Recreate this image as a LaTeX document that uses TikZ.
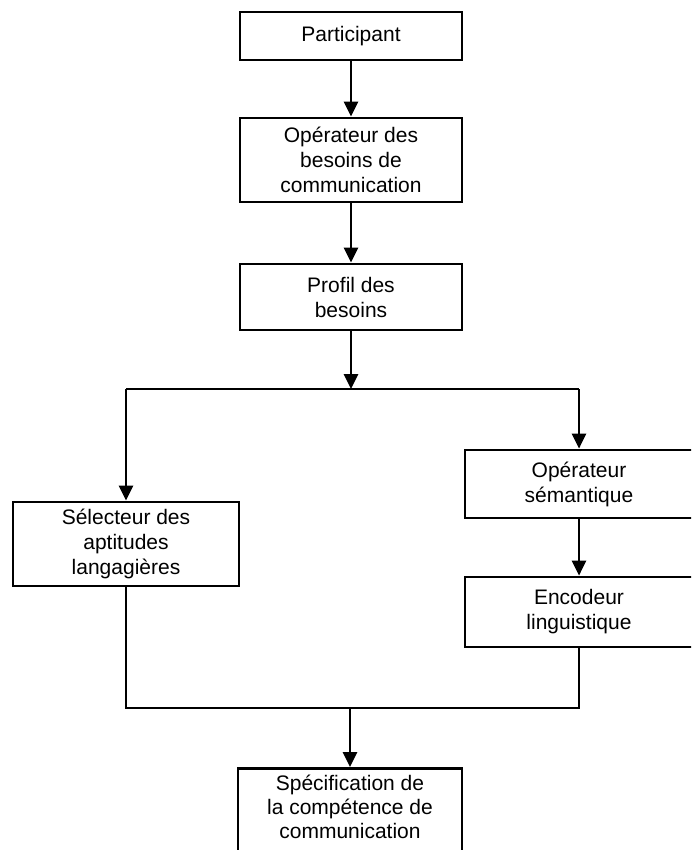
\documentclass[tikz,border=0pt]{standalone}
\usepackage{fontspec}
\setmainfont{Liberation Sans}
\usetikzlibrary{arrows.meta}

\tikzset{
  boxnode/.style={draw, line width=2.7pt, align=center, inner sep=0pt,
    font=\fontsize{21}{25}\selectfont},
  txtnode/.style={align=center, inner sep=0pt, font=\fontsize{21}{24}\selectfont},
  ln/.style={line width=2.7pt},
  arr/.style={line width=2.7pt, -{Triangle[length=15pt,width=14pt]}}
}

\begin{document}
\begin{tikzpicture}[x=1pt, y=-1pt]
  \useasboundingbox (0,0) rectangle (691,850);
  \clip (0,0) rectangle (691,850);

  % main column
  \node[boxnode, minimum width=222, minimum height=48] (part) at (351,36) {Participant};
  \node[boxnode, minimum width=222, minimum height=84] (opb) at (351,160)
    {Opérateur des\\besoins de\\communication};
  \node[boxnode, minimum width=222, minimum height=66] (prof) at (351,297)
    {Profil des\\besoins};

  % left branch
  \node[boxnode, minimum width=226, minimum height=84] (sel) at (126,544)
    {Sélecteur des\\aptitudes\\langagières};

  % right branch
  \node[boxnode, minimum width=228, minimum height=68] (sem) at (579,484)
    {Opérateur\\sémantique};
  \node[boxnode, minimum width=228, minimum height=70] (enc) at (579,612)
    {Encodeur\\linguistique};

  % final box (runs past the lower edge)
  \node[draw, line width=2.7pt, minimum width=224, minimum height=110, anchor=north,
    inner sep=0pt] (spec) at (350,767) {};
  \node[txtnode] (spectxt) at (350,807)
    {Spécification de\\la compétence de\\communication};

  % junction points
  \coordinate (split) at (351,389);
  \coordinate (merge) at (350,708);

  % connectors
  \draw[arr] (part) -- (opb);
  \draw[arr] (opb) -- (prof);
  \draw[arr] (prof) -- (split);
  \draw[ln] (sel.north |- split) -- (sem.north |- split);
  \draw[arr] (sel.north |- split) -- (sel.north);
  \draw[arr] (sem.north |- split) -- (sem.north);
  \draw[arr] (sem) -- (enc);
  \draw[ln] (sel.south) -- (sel.south |- merge) -- (enc.south |- merge) -- (enc.south);
  \draw[arr] (merge) -- (spec.north);
\end{tikzpicture}
\end{document}
